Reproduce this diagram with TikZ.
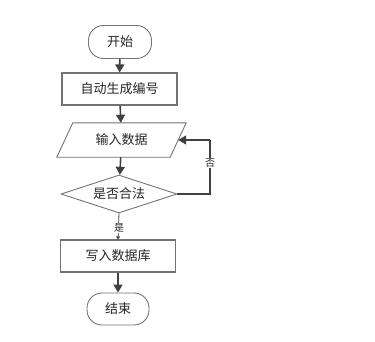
\documentclass[tikz,border=0pt]{standalone}
\usepackage{fontspec}
\newfontfamily\cjk{Noto Sans CJK SC}
\usetikzlibrary{shapes.geometric,arrows.meta,calc}
\begin{document}
\begin{tikzpicture}[x=1pt,y=-1pt,
  every node/.style={font=\cjk\fontsize{13}{15}\selectfont, text=black!85},
  term/.style={draw=black!55, line width=0.9pt, rounded corners=15pt, minimum width=63pt, minimum height=33pt, inner sep=0pt},
  proc/.style={draw=black!55, line width=1.2pt, minimum width=115pt, minimum height=32pt, inner sep=0pt},
  iobody/.style={minimum width=113pt, minimum height=34pt, inner sep=0pt},
  outline/.style={draw=black!55, line width=0.9pt},
  dec/.style={draw=black!55, line width=0.9pt, diamond, aspect=3.05, minimum width=116pt, minimum height=38pt, inner sep=0pt},
  flow/.style={draw=black!75, line width=1.6pt, -{Triangle[length=8pt,width=9pt]}},
  loopl/.style={draw=black!75, line width=1.3pt},
  lab/.style={fill=white, inner sep=1pt, font=\cjk\fontsize{10}{12}\selectfont}
]
\useasboundingbox (0,0) rectangle (375,341);
\node[term] (start) at (120,42) {开始};
\node[proc] (gen) at (119.5,89) {自动生成编号};
\node[iobody] (inp) at (121.5,140) {输入数据};
\draw[outline] ($(inp.north west)+(8,0)$) -- ($(inp.north east)+(8,0)$) -- ($(inp.south east)+(-8,0)$) -- ($(inp.south west)+(-8,0)$) -- cycle;
\node[dec] (chk) at (119,194) {是否合法};
\node[proc] (wr) at (118,256) {写入数据库};
\node[term, minimum width=62pt, minimum height=32pt] (end) at (118,309) {结束};
\coordinate (c1) at (210,194);
\coordinate (c2) at (210,140);
\draw[flow] (start) -- (gen);
\draw[flow] (gen) -- (inp);
\draw[flow] (inp) -- (chk);
\draw[loopl] (chk.east) -- (c1) -- (c2);
\draw[loopl, -{Triangle[length=8pt,width=9pt]}] (c2) -- (inp.east);
\node[lab] at (210,163) {否};
\draw[draw=black!75, line width=0.8pt, -{Triangle[length=3pt,width=4pt]}] (chk.south) -- (wr.north);
\node[lab] at (119,228) {是};
\draw[flow] (wr) -- (end);
\end{tikzpicture}
\end{document}
